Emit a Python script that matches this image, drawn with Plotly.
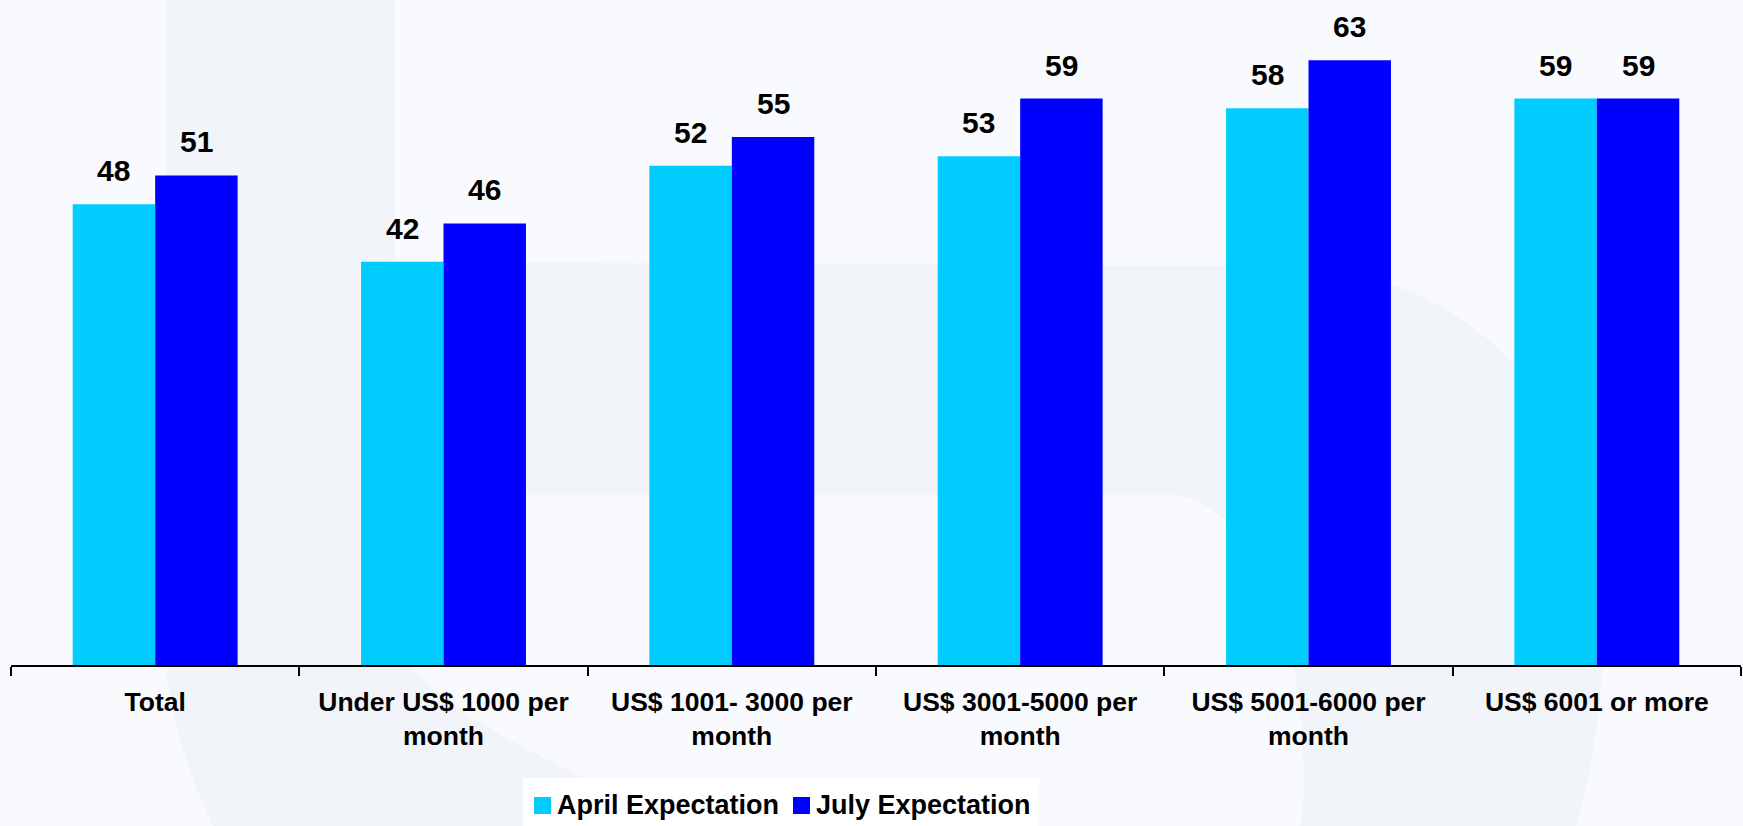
import plotly.graph_objects as go

# ---- data ----
categories = [
    "Total",
    "Under US$ 1000 per<br>month",
    "US$ 1001- 3000 per<br>month",
    "US$ 3001-5000 per<br>month",
    "US$ 5001-6000 per<br>month",
    "US$ 6001 or more",
]
series_names = ["April Expectation", "July Expectation"]
april = [48, 42, 52, 53, 58, 59]
july = [51, 46, 55, 59, 63, 59]
series_values = [april, july]
series_colors = ["#00CCFF", "#0000FF"]

# ---- layout constants ----
W, H = 1743, 826
ML, MR, MT, MB = 11, 2, 0, 161
PW, PH = W - ML - MR, H - MT - MB
BARGAP = 0.428
PX_PER_UNIT = 9.6
FONT = "Liberation Sans, Arial, Helvetica, sans-serif"
BG_LIGHT = "#F9FAFD"
BG_DARK = "#F1F4F9"


def to_paper(x, y):
    """Pixel position on the page -> paper coordinates of the plot area."""
    return (x - ML) / PW, (H - MB - y) / PH


def svg_path(segments):
    """Each segment is (command, points); every point gets its own command."""
    out = []
    for cmd, pts in segments:
        if cmd == "Z":
            out.append("Z")
            continue
        if cmd == "C":
            coords = " ".join("%.5f,%.5f" % to_paper(x, y) for x, y in pts)
            out.append("C " + coords)
        else:
            for x, y in pts:
                out.append(cmd + " %.5f,%.5f" % to_paper(x, y))
    return " ".join(out)


fig = go.Figure()
for name, vals, col in zip(series_names, series_values, series_colors):
    fig.add_trace(go.Bar(
        x=categories, y=vals, name=name,
        marker=dict(color=col, line=dict(width=0)),
        showlegend=False, hoverinfo="x+y+name",
    ))

# faint background emblem: a stem with a rounded bowl
stem_and_bowl = svg_path([
    ("M", [(167, 0)]),
    ("L", [(395, 0), (395, 262), (1300, 266)]),
    ("C", [(1480, 278), (1605, 420), (1605, 600)]),
    ("C", [(1605, 700), (1590, 780), (1575, 830)]),
    ("L", [(215, 830)]),
    ("C", [(190, 780), (175, 730), (167, 680)]),
    ("Z", []),
])
bowl_hole = svg_path([
    ("M", [(395, 495)]),
    ("L", [(1180, 495)]),
    ("C", [(1270, 520), (1304, 650), (1304, 790)]),
    ("L", [(1300, 830), (690, 830)]),
    ("C", [(600, 780), (430, 720), (395, 640)]),
    ("Z", []),
])

shapes = [
    dict(type="path", path=stem_and_bowl, xref="paper", yref="paper",
         fillcolor=BG_DARK, line=dict(width=0), layer="below"),
    dict(type="path", path=bowl_hole, xref="paper", yref="paper",
         fillcolor=BG_LIGHT, line=dict(width=0), layer="below"),
]

annotations = []
# value labels above each bar
off = (1 - BARGAP) / 4
for k, vals in enumerate(series_values):
    shift = -off if k == 0 else off
    for i, v in enumerate(vals):
        annotations.append(dict(
            x=i + shift, y=v, xref="x", yref="y", text=str(v),
            showarrow=False, yanchor="bottom", xanchor="center", yshift=15,
            font=dict(family=FONT, size=30, color="#000000", weight="bold"),
        ))

# legend box at the bottom
lx0, ly0 = to_paper(523, 778)
lx1, ly1 = to_paper(1039, 830)
shapes.append(dict(type="rect", xref="paper", yref="paper",
                   x0=lx0, x1=lx1, y0=ly1, y1=ly0,
                   fillcolor="#FFFFFF", line=dict(width=0), layer="below"))
legend_items = [(534, 557), (793, 816)]
for (sq_x, tx), name, col in zip(legend_items, series_names, series_colors):
    sx0, sy0 = to_paper(sq_x, 797)
    sx1, sy1 = to_paper(sq_x + 17, 814)
    shapes.append(dict(type="rect", xref="paper", yref="paper",
                       x0=sx0, x1=sx1, y0=sy1, y1=sy0,
                       fillcolor=col, line=dict(width=0)))
    ax, ay = to_paper(tx - 2, 805)
    annotations.append(dict(
        x=ax, y=ay, xref="paper", yref="paper", text=name, showarrow=False,
        xanchor="left", yanchor="middle",
        font=dict(family=FONT, size=27, color="#000000", weight="bold"),
    ))

fig.update_layout(
    width=W, height=H,
    margin=dict(l=ML, r=MR, t=MT, b=MB, pad=0),
    paper_bgcolor=BG_LIGHT, plot_bgcolor="rgba(0,0,0,0)",
    barmode="group", bargap=BARGAP, bargroupgap=0,
    showlegend=False,
    shapes=shapes, annotations=annotations,
    xaxis=dict(
        type="category", showline=True, linecolor="#000000", linewidth=2,
        ticks="outside", tickson="boundaries", ticklen=9, tickwidth=2,
        tickcolor="#000000", showgrid=False, zeroline=False,
        tickfont=dict(family=FONT, size=26.5, color="#000000", weight="bold"),
        ticklabelstandoff=12,
    ),
    yaxis=dict(range=[0, PH / PX_PER_UNIT], visible=False, showgrid=False,
               zeroline=False, fixedrange=True),
)

fig.write_html("out.html")
